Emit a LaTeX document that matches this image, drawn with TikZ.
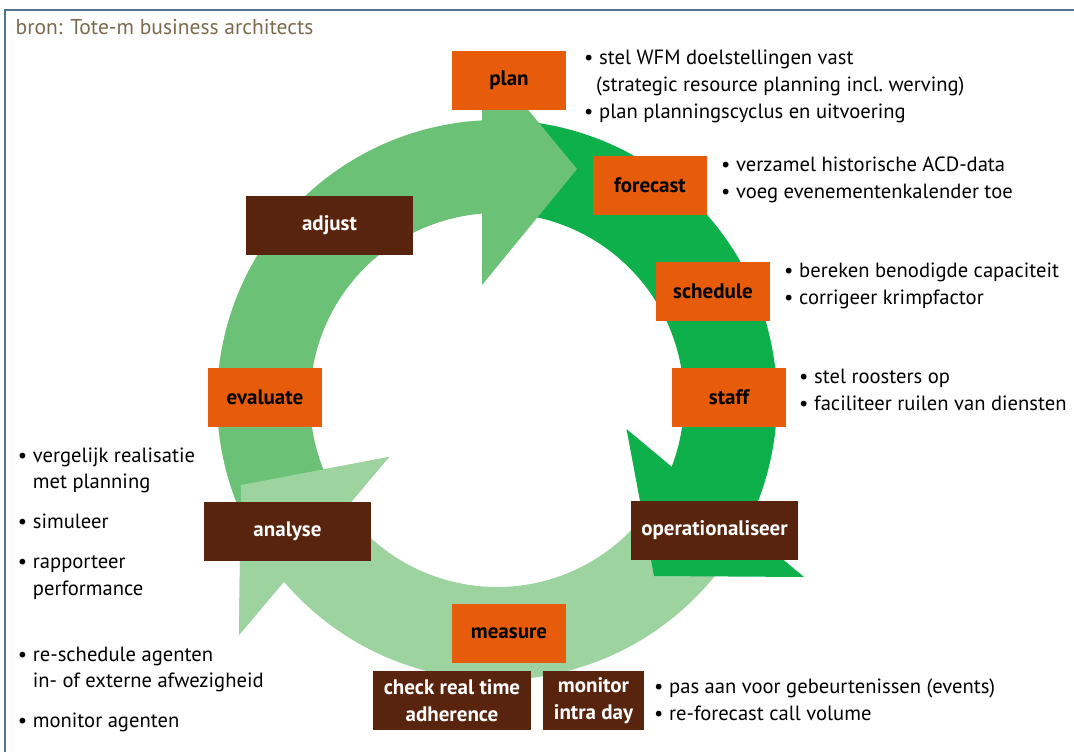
\documentclass[tikz,border=0pt]{standalone}
\usepackage{fontspec}
\setmainfont{PT Sans}

\definecolor{oranje}{RGB}{230,92,10}
\definecolor{bruin}{RGB}{88,36,13}
\definecolor{middengroen}{RGB}{107,193,117}
\definecolor{donkergroen}{RGB}{13,176,75}
\definecolor{lichtgroen}{RGB}{157,211,159}
\definecolor{kader}{RGB}{80,116,145}
\definecolor{bronkleur}{RGB}{123,106,78}

\newcommand{\opsom}{\makebox[15pt][l]{•}}
\newcommand{\inspring}{\hspace*{15pt}}

\begin{document}
\begin{tikzpicture}[x=1pt, y=1pt,
    fase/.style={fill=oranje, minimum width=114pt, minimum height=59pt,
	inner sep=0pt, font=\fontsize{21}{26}\selectfont\bfseries},
    actie/.style={fill=bruin, text=white, minimum height=59pt, inner sep=0pt,
	align=center, font=\fontsize{21}{26.7}\selectfont\bfseries},
    lijst/.style={anchor=base west, inner sep=0pt, align=left,
	font=\fontsize{20.6}{26.8}\selectfont}]

    \useasboundingbox (0, 0) rectangle (1074, -752);
    \draw[kader, line width=2pt] (1074, -10) -- (5, -10) -- (5, -752);

    \node[anchor=base west, inner sep=0pt, text=bronkleur,
	font=\fontsize{21.5}{24}\selectfont] (bron) at (15.5, -35)
	{bron: Tote-m business architects};

    % cyclus
    \begin{scope}[shift={(497, -400)}]
	\fill[lichtgroen] (-25:280) arc[start angle=-25, end angle=-139.55, radius=280]
	    -- (-258, -235) -- (-256, -85) -- (-108, -57)
	    -- (-144.3:187) arc[start angle=-144.3, end angle=-25, radius=187] -- cycle;
	\fill[donkergroen] (85:280) arc[start angle=85, end angle=-27.3, radius=280]
	    -- (307, -177) -- (157, -176) -- (129.5, -29)
	    -- (-20.9:187) arc[start angle=-20.9, end angle=85, radius=187] -- cycle;
	\fill[middengroen] (207:280) arc[start angle=207, end angle=93.07, radius=280]
	    -- (-15, 346) -- (80, 231) -- (-15, 115)
	    -- (94.6:187) arc[start angle=94.6, end angle=207, radius=187] -- cycle;
	\fill[lichtgroen] (-258, -235) -- (-256, -85) -- (-108, -57) -- cycle;
    \end{scope}

    \node[fase] (plan) at (509, -80.5) {plan};
    \node[fase] (forecast) at (650, -185.5) {forecast};
    \node[fase] (schedule) at (713, -291.5) {schedule};
    \node[fase] (staff) at (729, -397.5) {staff};
    \node[actie, minimum width=167pt] (operationaliseer) at (714.5, -530.5) {operationaliseer};
    \node[fase] (measure) at (509, -633.5) {measure};
    \node[actie, minimum width=158pt] (check) at (452, -700.5) {check real time\\adherence};
    \node[actie, minimum width=101pt] (monitor) at (593.5, -700.5) {monitor\\intra day};
    \node[actie, minimum width=167pt] (analyse) at (287.5, -531.5) {analyse};
    \node[fase] (evaluate) at (265, -397.5) {evaluate};
    \node[actie, minimum width=167pt] (adjust) at (329.5, -225.5) {adjust};

    % lijsten, geplaatst op de basislijn van de laatste regel
    \node[lijst] (planlijst) at (584, -118)
	{\opsom stel WFM doelstellingen vast\\
	\hspace*{12pt}(strategic resource planning incl.\ werving)\\
	\opsom plan planningscyclus en uitvoering};
    \node[lijst] (forecastlijst) at (721, -198)
	{\opsom verzamel historische ACD-data\\
	\opsom voeg evenementenkalender toe};
    \node[lijst] (schedulelijst) at (784, -304)
	{\opsom bereken benodigde capaciteit\\
	\opsom corrigeer krimpfactor};
    \node[lijst] (stafflijst) at (799, -410.7)
	{\opsom stel roosters op\\
	\opsom faciliteer ruilen van diensten};
    \node[lijst] (monitorlijst) at (654, -720)
	{\opsom pas aan voor gebeurtenissen (events)\\
	\opsom re-forecast call volume};
    \node[lijst] (evaluatelijst) at (17.7, -727.7)
	{\opsom vergelijk realisatie\\
	\inspring met planning\\[13pt]
	\opsom simuleer\\[13pt]
	\opsom rapporteer\\
	\inspring performance\\[39pt]
	\opsom re-schedule agenten\\
	\inspring in- of externe afwezigheid\\[13pt]
	\opsom monitor agenten};
\end{tikzpicture}
\end{document}
